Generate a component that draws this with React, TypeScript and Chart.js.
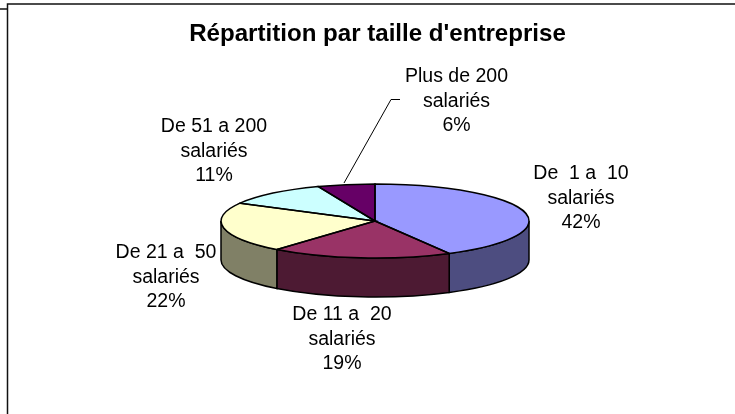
import { useEffect, useRef } from "react";
import { Chart, registerables } from "chart.js";

Chart.register(...registerables);

const titleText = "Répartition par taille d'entreprise";
const categories = ["De  1 a  10", "De 11 a  20", "De 21 a  50", "De 51 a 200", "Plus de 200"];
const unitLabel = "salariés";
const shares = [42, 19, 22, 11, 6];
const topColors = ["#9999FF", "#993366", "#FFFFCC", "#CCFFFF", "#660066"];
const wallColors = ["#4D4D80", "#4D1A33", "#808066", "#668080", "#330033"];
const labelCenters = [
  [581, 174],
  [342, 315],
  [166, 253],
  [214, 127],
  [456.5, 77],
];

const FONT = '"Liberation Sans", Arial, sans-serif';
const LABEL_SIZE = 19.5;
const LINE_STEP = 24.5;
const RY_RATIO = 37 / 154;
const DEPTH = 39;
const PIE_DX = -2.5;

const pie3d = {
  id: "pie3d",
  beforeDatasetsDraw(chart: any) {
    const ctx = chart.ctx;
    const arcs = chart.getDatasetMeta(0).data;
    const cx = arcs[0].x + PIE_DX;
    const cy = arcs[0].y;
    const r = arcs[0].outerRadius;
    const ry = r * RY_RATIO;
    arcs.forEach((arc: any, i: number) => {
      const a0 = Math.max(arc.startAngle, 0);
      const a1 = Math.min(arc.endAngle, Math.PI);
      if (a1 <= a0) return;
      ctx.beginPath();
      ctx.ellipse(cx, cy, r, ry, 0, a0, a1);
      ctx.lineTo(cx + r * Math.cos(a1), cy + ry * Math.sin(a1) + DEPTH);
      ctx.ellipse(cx, cy + DEPTH, r, ry, 0, a1, a0, true);
      ctx.closePath();
      ctx.fillStyle = wallColors[i];
      ctx.fill();
      ctx.strokeStyle = "#000";
      ctx.lineWidth = 1.5;
      ctx.stroke();
    });
    ctx.save();
    ctx.translate(cx, cy);
    ctx.scale(1, RY_RATIO);
    ctx.translate(-arcs[0].x, -cy);
  },
  afterDatasetsDraw(chart: any) {
    const ctx = chart.ctx;
    ctx.restore();
    const arcs = chart.getDatasetMeta(0).data;
    const cx = arcs[0].x + PIE_DX;
    const cy = arcs[0].y;
    const r = arcs[0].outerRadius;
    const ry = r * RY_RATIO;
    ctx.strokeStyle = "#000";
    ctx.lineWidth = 1.5;
    arcs.forEach((arc: any) => {
      ctx.beginPath();
      ctx.moveTo(cx, cy);
      ctx.lineTo(cx + r * Math.cos(arc.startAngle), cy + ry * Math.sin(arc.startAngle));
      ctx.ellipse(cx, cy, r, ry, 0, arc.startAngle, arc.endAngle);
      ctx.closePath();
      ctx.stroke();
    });

    ctx.lineWidth = 1;
    ctx.beginPath();
    ctx.moveTo(344, 183);
    ctx.lineTo(391, 99.5);
    ctx.lineTo(400, 99.5);
    ctx.stroke();

    ctx.fillStyle = "#000";
    ctx.textAlign = "center";
    ctx.textBaseline = "middle";
    ctx.font = `${LABEL_SIZE}px ${FONT}`;
    categories.forEach((name, i) => {
      const [x, y] = labelCenters[i];
      ctx.fillText(name, x, y);
      ctx.fillText(unitLabel, x, y + LINE_STEP);
      ctx.fillText(`${shares[i]}%`, x, y + LINE_STEP * 2);
    });

    ctx.lineWidth = 1.5;
    ctx.strokeStyle = "#111";
    ctx.beginPath();
    ctx.moveTo(735, 4);
    ctx.lineTo(7.5, 4);
    ctx.lineTo(7.5, 414);
    ctx.moveTo(0, 9);
    ctx.lineTo(7.5, 9);
    ctx.stroke();
  },
};

export default function App() {
  const ref = useRef<HTMLCanvasElement>(null);
  useEffect(() => {
    document.body.style.margin = "0";
    const chart = new Chart(ref.current!, {
      type: "pie",
      data: {
        labels: categories,
        datasets: [{ data: shares, backgroundColor: topColors, borderWidth: 0 }],
      },
      options: {
        animation: false,
        responsive: false,
        layout: { padding: { top: 20, bottom: 39, left: 20, right: 0 } },
        plugins: {
          legend: { display: false },
          tooltip: { enabled: false },
          title: {
            display: true,
            text: titleText,
            color: "#000",
            font: { family: FONT, size: 24.1, weight: "bold", lineHeight: 18 / 24.1 },
            padding: { top: 5, bottom: 24 },
          },
        },
      },
      plugins: [pie3d],
    });
    return () => chart.destroy();
  }, []);
  return <canvas ref={ref} width={735} height={414} style={{ display: "block" }} />;
}
